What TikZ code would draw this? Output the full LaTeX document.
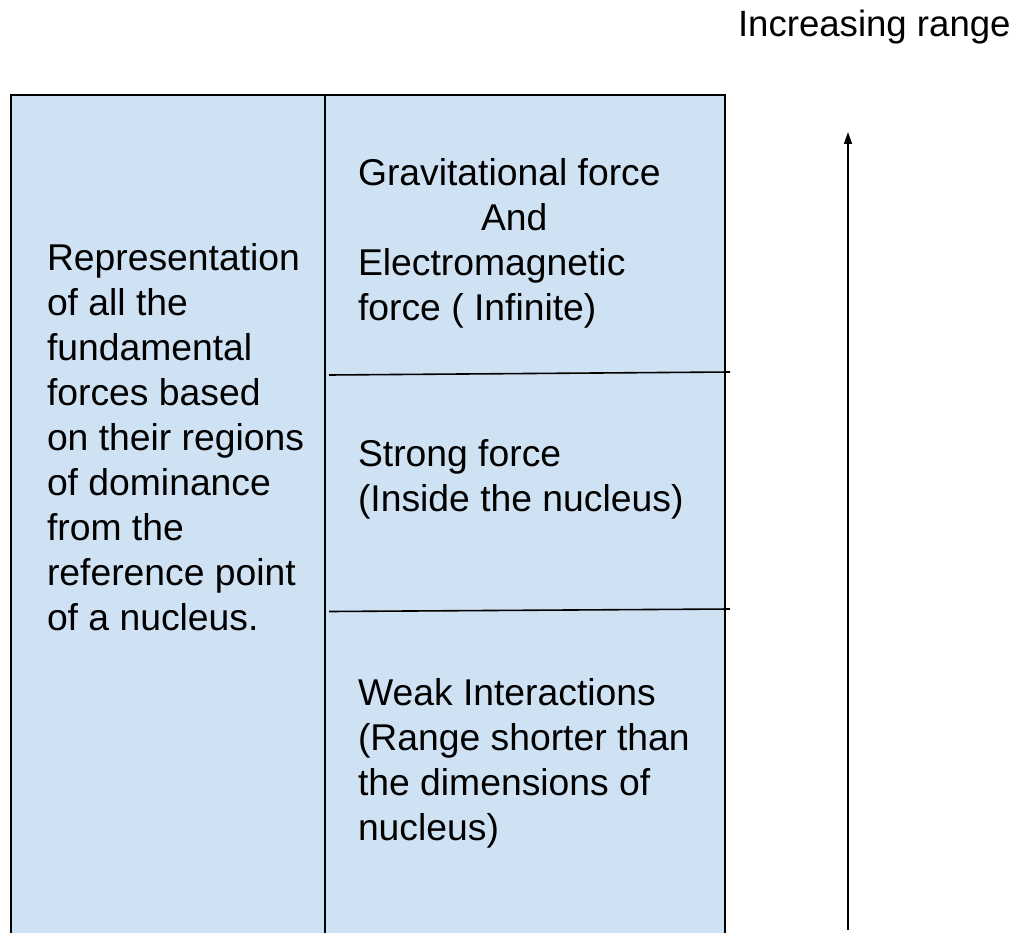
\documentclass[tikz,border=0pt]{standalone}
\usepackage{fontspec}
\setmainfont{Liberation Sans}
\usetikzlibrary{arrows.meta}
\definecolor{cellblue}{HTML}{CFE2F3}
\tikzset{
  txt/.style={inner sep=0pt, outer sep=0pt, anchor=base west, align=left,
    font=\fontsize{37.3}{45}\selectfont, text=black},
  rule/.style={draw=black, line width=1.6pt},
}
\begin{document}
\begin{tikzpicture}[x=1pt,y=-1pt]
\useasboundingbox (0,0) rectangle (1016,933);
\begin{scope}
\clip (0,0) rectangle (1016,933);
% cells
\path[fill=cellblue] (11,95) rectangle (725,945);
\draw[rule] (11,945) -- (11,95) -- (725,95) -- (725,945);
\draw[rule] (325,95) -- (325,945);
\draw[rule] (329,375) -- (730,372);
\draw[rule] (329,611.5) -- (730,609);
% arrow
\coordinate (abot) at (848,930);
\coordinate (atop) at (848,132);
\draw[line width=1.6pt, -{Triangle[width=8pt,length=12pt]}] (abot) -- (atop);
\end{scope}
% texts (anchored at the baseline of their last line)
\node[txt, font=\fontsize{36.6}{45}\selectfont] (title) at (738,37) {Increasing range};
\node[txt] (left) at (47,630) {Representation\\of all the\\fundamental\\forces based\\on their regions\\of dominance\\from the\\reference point\\of a nucleus.};
\node[txt] (grav) at (358,320) {Gravitational force\\\hspace*{123pt}And\\Electromagnetic\\force ( Infinite)};
\node[txt] (strong) at (358,511) {Strong force\\(Inside the nucleus)};
\node[txt] (weak) at (358,840) {Weak Interactions\\(Range shorter than\\the dimensions of\\nucleus)};
\end{tikzpicture}
\end{document}
